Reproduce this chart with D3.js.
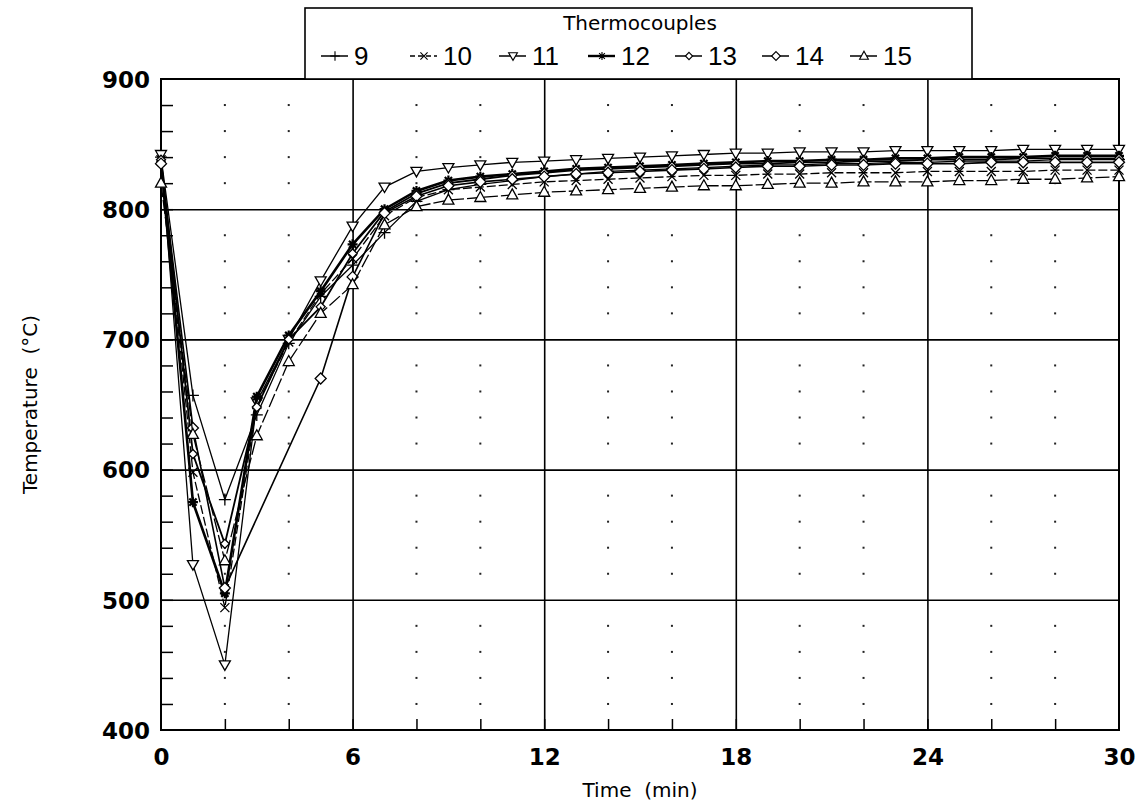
<!DOCTYPE html>
<meta charset="utf-8">
<style>
body { margin: 0; background: #fff; }
text { fill: #000; }
.tick-label text { font-family: "DejaVu Sans", sans-serif; font-weight: bold; font-size: 23px; }
.title { font-family: "DejaVu Sans", sans-serif; font-size: 20px; }
.legend-num { font-family: "Liberation Sans", sans-serif; font-size: 26px; }
.domain { display: none; }
.series path.line { fill: none; stroke: #000; }
</style>
<body>
<script src="https://cdn.jsdelivr.net/npm/d3@7"></script>
<script>

// minutes after start
var time = d3.range(0, 31);

// thermocouple readings (deg C); null = not recorded
var tc9  = [840, 657, 577, 642, 697, 733, 757, 782, 806, 815, 819, 822, 825, 827, 829, 830, 831, 832, 833, 834, 834, 835, 835, 836, 836, 837, 837, 837, 838, 838, 838];
var tc10 = [838, 598, 494, 650, 698, 735, 762, 795, 809, 815, 817, 819, 821, 822, 823, 824, 825, 826, 826, 827, 827, 828, 828, 828, 829, 829, 829, 829, 830, 830, 830];
var tc11 = [842, 527, 450, 652, 700, 745, 787, 817, 829, 832, 834, 836, 837, 838, 839, 840, 841, 842, 843, 843, 844, 844, 844, 845, 845, 845, 845, 846, 846, 846, 846];
var tc12 = [836, 575, 505, 656, 703, 737, 773, 800, 814, 822, 825, 827, 829, 831, 832, 833, 834, 835, 836, 837, 837, 838, 838, 839, 839, 840, 840, 840, 841, 841, 841];
var tc13 = [838, 612, 543, 648, 700, 725, 766, 798, 812, 820, 823, 826, 828, 830, 831, 832, 833, 834, 835, 835, 836, 836, 837, 837, 838, 838, 838, 839, 839, 839, 839];
var tc14 = [835, 632, 509, null, null, 670, 748, 797, 810, 818, 821, 823, 825, 827, 828, 829, 830, 831, 832, 833, 833, 834, 834, 835, 835, 835, 836, 836, 836, 836, 836];
var tc15 = [820, 627, 530, 626, 683, 720, 742, 788, 802, 807, 809, 811, 813, 814, 815, 816, 817, 818, 818, 819, 820, 820, 821, 821, 821, 822, 822, 823, 823, 824, 825];

var names = ["9", "10", "11", "12", "13", "14", "15"];
var values = [tc9, tc10, tc11, tc12, tc13, tc14, tc15];

var xTicks = [0, 6, 12, 18, 24, 30];
var yTicks = [400, 500, 600, 700, 800, 900];

var margin = {top: 79, right: 29, bottom: 77, left: 161},
    width = 1148 - margin.left - margin.right,
    height = 807 - margin.top - margin.bottom;

var x = d3.scaleLinear().domain([0, 30]).range([0, width]);
var y = d3.scaleLinear().domain([400, 900]).range([height, 0]);

// marker shapes
var markers = {
  "9":  "M-6,0H6M0,-6V6",
  "10": "M-4.5,-4.5L4.5,4.5M-4.5,4.5L4.5,-4.5",
  "11": "M-5.5,-4L5.5,-4L0,5.5Z",
  "12": "M-5,0H5M0,-5V5M-3.6,-3.6L3.6,3.6M-3.6,3.6L3.6,-3.6",
  "13": "M0,-4.5L4.5,0L0,4.5L-4.5,0Z",
  "14": "M0,-5.5L5.5,0L0,5.5L-5.5,0Z",
  "15": "M0,-6L5.5,4L-5.5,4Z"
};
var filled = {"12": true};
var widths = {"9": 1.3, "10": 1.3, "11": 1.3, "12": 2.6, "13": 1.8, "14": 1.6, "15": 1.3};
var dashes = {"10": "9,3", "15": "14,3"};

var svg = d3.select("body").append("svg")
    .attr("width", 1148)
    .attr("height", 807);

var g = svg.append("g")
    .attr("transform", "translate(" + margin.left + "," + margin.top + ")");

// dotted grid
var dotX = d3.range(2, 30, 2).filter(function(d) { return d % 6; });
var dotY = d3.range(420, 900, 20).filter(function(d) { return d % 100; });
dotX.forEach(function(dx) {
  g.selectAll(null)
      .data(dotY)
    .enter().append("rect")
      .attr("x", x(dx) - 1)
      .attr("y", function(d) { return y(d) - 1; })
      .attr("width", 2)
      .attr("height", 2)
      .attr("fill", "#222");
});

// major grid
g.append("g")
    .call(d3.axisBottom(x).tickValues([6, 12, 18, 24]).tickSize(height).tickFormat(""))
    .selectAll("line").attr("stroke", "#000").attr("stroke-width", 1.6);
g.append("g")
    .call(d3.axisLeft(y).tickValues([500, 600, 700, 800]).tickSize(-width).tickFormat(""))
    .selectAll("line").attr("stroke", "#000").attr("stroke-width", 1.6);

// minor ticks, inward
g.append("g")
    .call(d3.axisLeft(y).tickValues(d3.range(420, 900, 20)).tickSize(-12).tickFormat(""))
    .selectAll("line").attr("stroke", "#000").attr("stroke-width", 1.5);
g.append("g")
    .attr("transform", "translate(0," + height + ")")
    .call(d3.axisBottom(x).tickValues(d3.range(2, 30, 2)).tickSize(-11).tickFormat(""))
    .selectAll("line").attr("stroke", "#000").attr("stroke-width", 1.5);

// frame
g.append("rect")
    .attr("width", width)
    .attr("height", height)
    .attr("fill", "none")
    .attr("stroke", "#000")
    .attr("stroke-width", 2);

// tick labels
g.append("g")
    .attr("class", "tick-label")
    .call(d3.axisLeft(y).tickValues(yTicks).tickSize(0).tickPadding(11))
    .selectAll("text").attr("dy", "0.36em");
g.append("g")
    .attr("class", "tick-label")
    .attr("transform", "translate(0," + height + ")")
    .call(d3.axisBottom(x).tickValues(xTicks).tickSize(0).tickPadding(19));

// axis titles
svg.append("text")
    .attr("class", "title")
    .attr("x", margin.left + width / 2)
    .attr("y", 797)
    .attr("text-anchor", "middle")
    .attr("font-size", "21px")
    .attr("xml:space", "preserve")
    .text("Time  (min)");
svg.append("text")
    .attr("class", "title")
    .attr("transform", "translate(37," + (margin.top + y(650)) + ") rotate(-90)")
    .attr("text-anchor", "middle")
    .attr("xml:space", "preserve")
    .text("Temperature  (°C)");

// series
var line = d3.line()
    .x(function(d) { return x(d.t); })
    .y(function(d) { return y(d.v); });

names.forEach(function(name, i) {
  var pts = time.map(function(t, j) { return {t: t, v: values[i][j]}; })
      .filter(function(d) { return d.v != null; });
  var s = g.append("g").attr("class", "series");
  s.append("path")
      .attr("class", "line")
      .attr("d", line(pts))
      .attr("stroke-width", widths[name])
      .attr("stroke-dasharray", dashes[name] || null);
  s.selectAll(".mark")
      .data(pts)
    .enter().append("path")
      .attr("class", "mark")
      .attr("transform", function(d) { return "translate(" + x(d.t) + "," + y(d.v) + ")"; })
      .attr("d", markers[name])
      .attr("fill", filled[name] ? "#000" : "#fff")
      .attr("stroke", "#000")
      .attr("stroke-width", name === "12" ? 2.2 : 1.3);
});

// legend
var legend = svg.append("g");
legend.append("rect")
    .attr("x", 305)
    .attr("y", 8)
    .attr("width", 667)
    .attr("height", 71)
    .attr("fill", "#fff")
    .attr("stroke", "#000")
    .attr("stroke-width", 1.6);
legend.append("text")
    .attr("class", "title")
    .attr("x", 640)
    .attr("y", 30)
    .attr("text-anchor", "middle")
    .text("Thermocouples");

var legendX = [321, 410, 499, 588, 675, 762, 850];
names.forEach(function(name, i) {
  var e = legend.append("g").attr("transform", "translate(" + legendX[i] + ",56)");
  e.append("line")
      .attr("x1", 0).attr("x2", 27)
      .attr("stroke", "#000")
      .attr("stroke-width", name === "12" ? 2.4 : 1.5)
      .attr("stroke-dasharray", name === "10" ? "5,3" : null);
  e.append("path")
      .attr("transform", "translate(14,0) scale(0.8)")
      .attr("d", markers[name])
      .attr("fill", filled[name] ? "#000" : "#fff")
      .attr("stroke", "#000")
      .attr("stroke-width", 1.4);
  e.append("text")
      .attr("class", "legend-num")
      .attr("x", 33)
      .attr("dy", "0.36em")
      .text(name);
});

</script>
</body>
